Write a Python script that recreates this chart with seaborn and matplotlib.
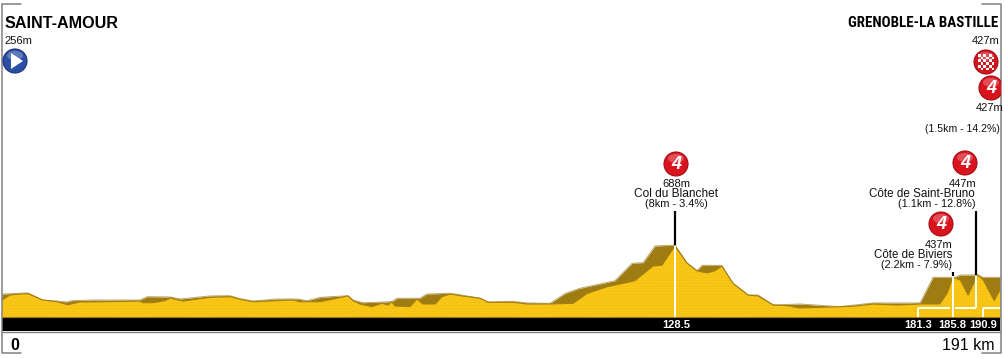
import matplotlib
matplotlib.use("Agg")
import matplotlib.pyplot as plt
from matplotlib.patches import Circle, Ellipse, Polygon, Rectangle
import seaborn as sns

# far ridge, distance in km and altitude in m
back_km = [0, 3.4, 5.0, 7.8, 10.5, 12.4, 13.4, 17.4, 26.4, 27.8, 32.2, 34.1, 39.8, 43.6, 45.6, 48.0,
           52.6, 56.5, 58.4, 60.9, 66.2, 67.2, 69.1, 74.6, 75.6, 80.0, 81.3, 85.8, 88.0, 91.5,
           93.0, 97.8, 100.5, 104.9, 107.8, 110.6, 117.3, 120.6, 122.7, 125.0, 128.8, 131.1, 133.0,
           134.0, 137.6, 139.9, 142.8, 144.7, 147.6, 152.7, 160.4, 166.7, 175.7, 178.2, 182.4, 183.4,
           186.8, 187.8, 191]
back_alt = [303, 309, 311, 256, 248, 241, 251, 256, 256, 282, 280, 264, 288, 290, 266, 248,
            264, 264, 251, 277, 290, 256, 235, 243, 270, 270, 303, 309, 295, 270,
            241, 246, 233, 230, 308, 348, 407, 544, 549, 680, 686, 546, 486,
            528, 528, 387, 295, 295, 217, 225, 204, 233, 233, 434, 434, 452,
            452, 434, 434]

# road profile in front
front_km = [0, 1.5, 3.4, 5.0, 7.8, 10.5, 12.6, 14.9, 17.4, 26.4, 27.0, 28.9, 31.2, 32.2, 34.6, 39.8,
            43.6, 45.6, 48.0, 55.7, 57.0, 60.9, 63.4, 66.2, 67.2, 68.5, 70.8, 72.7, 73.9, 74.6,
            75.2, 78.1, 79.4, 80.6, 82.9, 84.2, 85.8, 88.0, 91.5, 93.0, 97.8, 100.5, 104.9, 109.3, 112.0,
            115.8, 121.1, 124.6, 126.3, 128.8, 131.1, 133.0, 134.9, 136.5, 137.8, 139.9, 142.8, 144.7,
            147.6, 150.2, 152.7, 160.4, 163.6, 166.7, 171.3, 175.7, 179.5, 180.9, 182.0, 183.4, 184.9,
            186.4, 186.8, 187.8, 189.9, 191]
front_alt = [256, 295, 303, 306, 256, 243, 219, 241, 241, 248, 235, 235, 251, 272, 248, 277,
             282, 262, 243, 256, 243, 243, 264, 288, 251, 225, 204, 230, 217, 243,
             209, 204, 264, 225, 225, 282, 303, 288, 270, 238, 238, 225, 225, 230, 308,
             360, 407, 523, 529, 680, 546, 486, 468, 486, 523, 387, 295, 288,
             217, 212, 194, 204, 209, 225, 217, 225, 225, 311, 434, 413, 295,
             429, 452, 413, 251, 335]

start_name = "SAINT-AMOUR"
finish_name = "GRENOBLE-LA BASTILLE"
start_alt_label = "256m"
finish_alt_label = "427m"
km_labels = ["128.5", "181.3", "185.8", "190.9"]
km_label_px = [676, 918, 952, 983]
climb_lines = [
    ("688m", 676, 184, "center", 8),
    ("Col du Blanchet", 676, 194, "center", 8.6),
    ("(8km - 3.4%)", 676, 204, "center", 7.9),
    ("447m", 963, 184, "center", 8),
    ("Côte de Saint-Bruno", 975, 194, "right", 8.4),
    ("(1.1km - 12.8%)", 975, 204, "right", 7.8),
    ("437m", 939, 245, "center", 8),
    ("Côte de Biviers", 952, 255, "right", 8.3),
    ("(2.2km - 7.9%)", 952, 265, "right", 7.8),
    ("(1.5km - 14.2%)", 1000, 129, "right", 7.6),
]
badge_px = [(676, 164), (965, 163), (941, 224), (991, 88)]

YELLOW = "#fbc716"
BROWN = "#9f7c12"
EDGE = "#a37f10"
GREY = "#808080"
KM_PER_PX = 191 / 998
M_PER_PX = 7.84

sns.set_theme(style="white")
plt.rcParams["font.family"] = ["Liberation Sans", "DejaVu Sans"]
plt.rcParams["hatch.linewidth"] = 0.4

fig = plt.figure(figsize=(10.05, 3.59), dpi=100, facecolor="white")

# profile axes: km across, metres up, filling the whole figure
ax = fig.add_axes([0, 0, 1, 1], zorder=1)
ax.set_xlim(-2 * KM_PER_PX, 1003 * KM_PER_PX)
ax.set_ylim(123 - 42 * M_PER_PX, 123 + 317 * M_PER_PX)
ax.axis("off")
base = 123

ax.fill_between(back_km, base, back_alt, color=BROWN, lw=0, zorder=1)
ax.fill_between(front_km, base, front_alt, facecolor=YELLOW, edgecolor="#e9b512", hatch="......", lw=0, zorder=2)
sns.lineplot(x=back_km, y=back_alt, ax=ax, color="#b9a567", lw=0.7, sort=False, errorbar=None, zorder=2)
sns.lineplot(x=front_km, y=front_alt, ax=ax, color=EDGE, lw=0.8, sort=False, errorbar=None, zorder=3)

# overlay in pixel coordinates for frame, band, labels and badges
px = fig.add_axes([0, 0, 1, 1], zorder=2)
px.set_xlim(0, 1005)
px.set_ylim(359, 0)
px.axis("off")
px.patch.set_alpha(0)

px.add_patch(Rectangle((2, 317), 998, 14, color="black", lw=0, zorder=2))
px.plot([2, 1000], [316.6, 316.6], color=EDGE, lw=0.8, zorder=2)
px.plot([2, 1000], [331.5, 331.5], color=GREY, lw=1, zorder=2)
px.plot([21, 1.5, 1.5, 21], [3.5, 3.5, 353, 353], color=GREY, lw=1.1, zorder=2)
px.plot([982, 1000.5, 1000.5, 982], [3.5, 3.5, 353, 353], color=GREY, lw=1.1, zorder=2)

# white split lines and black summit poles
white_lines = [
    ([675, 675], [246, 317]),
    ([953, 953], [277, 317]),
    ([976, 976], [276, 308]),
    ([918, 918], [308, 317]),
    ([983, 983], [308, 317]),
    ([918, 950], [308, 308]),
    ([955, 976], [308, 308]),
    ([983, 1000], [308, 308]),
]
for xs, ys in white_lines:
    px.plot(xs, ys, color="white", lw=1.4, zorder=3, solid_capstyle="butt")
px.plot([675, 675], [211, 245], color="black", lw=1.6, zorder=3, solid_capstyle="butt")
px.plot([976, 976], [211, 275], color="black", lw=1.6, zorder=3, solid_capstyle="butt")
px.plot([953, 953], [272, 276], color="black", lw=1.6, zorder=3, solid_capstyle="butt")


def round_badge(x, y, fill, rim):
    # shiny round button, returns the artists so they can be clipped
    parts = [
        Circle((x, y), 12, fc=fill, ec=rim, lw=0.8, zorder=4),
        Ellipse((x, y - 5.5), 16, 9, fc="white", ec="none", alpha=0.25, zorder=5),
    ]
    for part in parts:
        px.add_patch(part)
    return parts


frame_clip = Rectangle((0, 0), 1001, 359, transform=px.transData)
for bx, by in badge_px:
    parts = round_badge(bx, by, "#d9141f", "#a50d14")
    label = px.text(bx, by + 0.3, "4", color="white", fontsize=13, fontweight="bold", fontstyle="italic",
                    ha="center", va="center", zorder=6)
    for artist in parts + [label]:
        artist.set_clip_path(frame_clip)
        artist.set_clip_on(True)

round_badge(15, 61, "#2c4fa6", "#1b3174")
px.add_patch(Polygon([(11, 53), (11, 69), (23, 61)], fc="white", ec="none", zorder=6))

round_badge(986, 62, "#d2141e", "#a50d14")
for row in range(6):
    for col in range(6):
        if (row + col) % 2 == 0:
            px.add_patch(Rectangle((978 + col * 2.7, 54 + row * 2.7), 2.7, 2.7, fc="white", ec="none", zorder=6))

px.text(5, 23, start_name, fontsize=11.6, fontweight="bold", color="black", ha="left", va="center", zorder=6)
px.text(998, 23, finish_name, fontsize=10.8, fontweight="bold", color="black", ha="right", va="center",
        family=["Roboto Condensed", "Barlow Condensed", "Liberation Sans"], zorder=6)
px.text(4, 41, start_alt_label, fontsize=8, color="#111111", ha="left", va="center", zorder=6)
px.text(999, 41, finish_alt_label, fontsize=8, color="#111111", ha="right", va="center", zorder=6)
px.text(1003, 108, finish_alt_label, fontsize=8, color="#111111", ha="right", va="center", zorder=6,
        clip_path=frame_clip, clip_on=True)
for text, x, y, align, size in climb_lines:
    px.text(x, y, text, fontsize=size, color="#111111", ha=align, va="center", zorder=6)
for text, x in zip(km_labels, km_label_px):
    px.text(x, 325, text, fontsize=8, fontweight="bold", color="white", ha="center", va="center", zorder=6)

px.text(15, 345, "0", fontsize=11.5, color="black", fontweight="bold", ha="center", va="center", zorder=6)
px.text(995, 345, "191 km", fontsize=11.5, color="black", ha="right", va="center", zorder=6)

fig.savefig("out.png", dpi=100, facecolor="white")
